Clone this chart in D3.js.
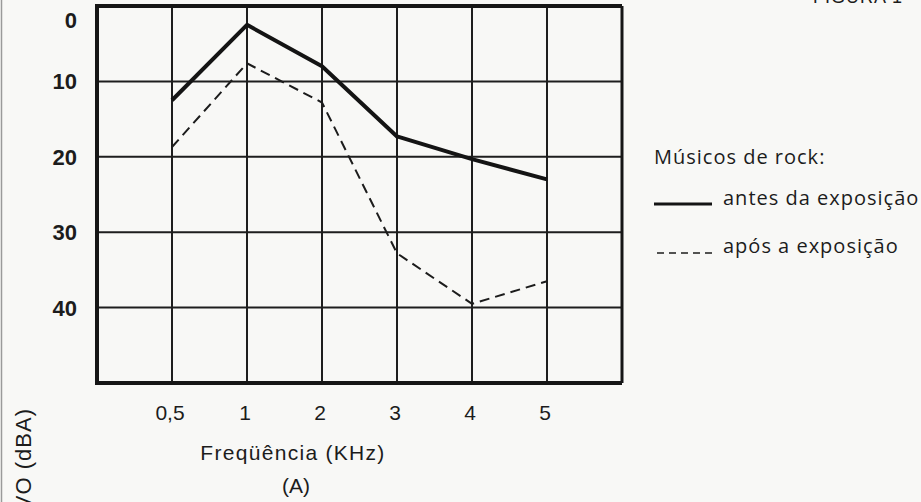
<!DOCTYPE html>
<html>
<head>
<meta charset="utf-8">
<script src="https://cdn.jsdelivr.net/npm/d3@7"></script>
<style>
  body { margin: 0; background: #f8f8f6; }
  svg { display: block; }
  text { fill: #1c1c1c; }
</style>
</head>
<body>
<div id="chart"></div>
<script>
// categories (frequency, kHz) and hearing levels
var categories = ["0,5", "1", "2", "3", "4", "5"];
var antes = [12.5, 2.5, 8, 17.3, 20.3, 23];
var apos = [18.7, 7.6, 12.8, 32.8, 39.5, 36.5];
var yTicks = [0, 10, 20, 30, 40];
var seriesNames = ["antes da exposição", "após a exposição"];

var width = 921, height = 502;

var svg = d3.select("#chart").append("svg")
    .attr("width", width)
    .attr("height", height);

// set the ranges: one empty column before 0,5 and one after 5
var x = d3.scaleLinear().domain([-1, categories.length]).range([97, 622]);
var y = d3.scaleLinear().domain([0, 50]).range([6, 383]);

// faint scan edge on the left
svg.append("line")
    .attr("x1", 1.5).attr("x2", 1.5)
    .attr("y1", 0).attr("y2", height)
    .attr("stroke", "#9a9a9a").attr("stroke-width", 1.5);

// vertical grid lines
svg.append("g")
    .selectAll("line")
    .data(d3.range(-1, categories.length + 1))
    .enter().append("line")
    .attr("x1", function(d) { return x(d); })
    .attr("x2", function(d) { return x(d); })
    .attr("y1", y(0)).attr("y2", y(50))
    .attr("stroke", "#1e1e1e")
    .attr("stroke-width", 2);

// horizontal grid lines
svg.append("g")
    .selectAll("line")
    .data(d3.range(0, 51, 10))
    .enter().append("line")
    .attr("x1", x(-1)).attr("x2", x(categories.length))
    .attr("y1", function(d) { return y(d); })
    .attr("y2", function(d) { return y(d); })
    .attr("stroke", "#1e1e1e")
    .attr("stroke-width", 2);

// heavier frame
svg.append("path")
    .attr("d", "M" + x(categories.length) + "," + y(0) +
        "H" + x(-1) + "V" + y(50) + "H" + x(categories.length))
    .attr("fill", "none")
    .attr("stroke", "#161616")
    .attr("stroke-width", 4);
svg.append("line")
    .attr("x1", x(categories.length)).attr("x2", x(categories.length))
    .attr("y1", y(0)).attr("y2", y(50))
    .attr("stroke", "#161616").attr("stroke-width", 3);

// y tick labels
svg.append("g")
    .selectAll("text")
    .data(yTicks)
    .enter().append("text")
    .attr("x", 77)
    .attr("y", function(d) { return y(d); })
    .attr("dy", function(d) { return d === 0 ? "1.0em" : "0.36em"; })
    .attr("text-anchor", "end")
    .style("font-family", "Liberation Sans")
    .style("font-weight", "bold")
    .style("font-size", "22px")
    .text(function(d) { return d; });

// x tick labels
svg.append("g")
    .selectAll("text")
    .data(categories)
    .enter().append("text")
    .attr("x", function(d, i) { return x(i) - 2; })
    .attr("y", 420)
    .attr("text-anchor", "middle")
    .style("font-family", "Liberation Sans")
    .style("font-size", "21px")
    .text(function(d) { return d; });

// axis titles
svg.append("text")
    .attr("x", 293).attr("y", 460)
    .attr("text-anchor", "middle")
    .style("font-family", "Liberation Sans")
    .style("font-size", "21px")
    .style("letter-spacing", "1.3px")
    .text("Freqüência (KHz)");

svg.append("text")
    .attr("x", 296).attr("y", 493)
    .attr("text-anchor", "middle")
    .style("font-family", "Liberation Sans")
    .style("font-size", "21px")
    .text("(A)");

svg.append("text")
    .attr("transform", "translate(31,408) rotate(-90)")
    .attr("text-anchor", "end")
    .style("font-family", "Liberation Sans")
    .style("font-size", "22px")
    .style("letter-spacing", "1px")
    .text("LIMIAR AUDITIVO (dBA)");

// figure caption cut by the top edge
svg.append("text")
    .attr("x", 903).attr("y", 3)
    .attr("text-anchor", "end")
    .style("font-family", "Liberation Sans")
    .style("font-size", "18px")
    .style("letter-spacing", "1px")
    .text("FIGURA 1");

// the lines
var line = d3.line()
    .x(function(d, i) { return x(i); })
    .y(function(d) { return y(d); });

svg.append("path")
    .datum(antes)
    .attr("d", line)
    .attr("fill", "none")
    .attr("stroke", "#141414")
    .attr("stroke-width", 4)
    .attr("stroke-linejoin", "round");

svg.append("path")
    .datum(apos)
    .attr("d", line)
    .attr("fill", "none")
    .attr("stroke", "#1c1c1c")
    .attr("stroke-width", 2)
    .attr("stroke-dasharray", "10,6");

// legend
var legend = svg.append("g").attr("transform", "translate(654,0)");

legend.append("text")
    .attr("x", 0).attr("y", 164)
    .style("font-family", "Open Sans")
    .style("font-size", "20px")
    .style("letter-spacing", "1px")
    .text("Músicos de rock:");

legend.append("line")
    .attr("x1", 0).attr("x2", 58)
    .attr("y1", 204).attr("y2", 204)
    .attr("stroke", "#141414").attr("stroke-width", 3);

legend.append("text")
    .attr("x", 69).attr("y", 205)
    .style("font-family", "Open Sans")
    .style("font-size", "20px")
    .style("letter-spacing", "1px")
    .text(seriesNames[0]);

legend.append("line")
    .attr("x1", 3).attr("x2", 59)
    .attr("y1", 253).attr("y2", 253)
    .attr("stroke", "#1c1c1c").attr("stroke-width", 1.6)
    .attr("stroke-dasharray", "7,5");

legend.append("text")
    .attr("x", 69).attr("y", 253)
    .style("font-family", "Open Sans")
    .style("font-size", "20px")
    .style("letter-spacing", "1px")
    .text(seriesNames[1]);
</script>
</body>
</html>
